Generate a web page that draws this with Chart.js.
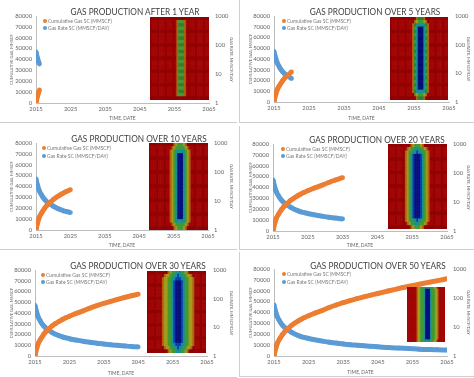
<!DOCTYPE html>
<html>
<head>
<meta charset="utf-8">
<title>Gas production</title>
<script src="https://cdn.jsdelivr.net/npm/chart.js@4/dist/chart.umd.min.js"></script>
<style>
	html, body { margin: 0; padding: 0; background: #fff; }
	#page { position: relative; width: 474px; height: 378px; overflow: hidden; filter: blur(0.55px); }
	.frame { position: absolute; box-sizing: border-box; border-bottom: 1px solid #cfcfcf; }
	.frame.side { border-left: 1px solid #cfcfcf; }
	.box { position: absolute; }
	.box canvas { display: block; }
	.title { position: absolute; transform: translate(-50%, -50%) scaleX(.88); white-space: nowrap; font: 9.4px Lato, sans-serif; color: #404040; }
	.legend { position: absolute; transform: translateY(-50%); white-space: nowrap; font: 5px Lato, sans-serif; color: #777; }
	.dot { position: absolute; width: 4px; height: 4px; border-radius: 50%; transform: translate(-50%, -50%); }
</style>
</head>
<body>
<div id="page"></div>
<script>

var years = [2015, 2015.1, 2015.25, 2015.5, 2015.75, 2016, 2016.5, 2017, 2017.5, 2018, 2018.8, 2019, 2020, 2021, 2022, 2023, 2024, 2025, 2027, 2029, 2031, 2033, 2035, 2037, 2039, 2041, 2043, 2045, 2048, 2051, 2054, 2057, 2060, 2062, 2065];
var cumulativeGas = [0, 1800, 4000, 7000, 9700, 12000, 15000, 17500, 20000, 22000, 24500, 25000, 28000, 30300, 32200, 34000, 35600, 37000, 39600, 42000, 44600, 46900, 49000, 50900, 52700, 54400, 56000, 57500, 59800, 62000, 64100, 66000, 67900, 69100, 71000];
var gasRate = [58, 50, 42, 33, 26, 22, 17, 13.5, 11.3, 9.8, 8.2, 8, 6.6, 5.7, 5.1, 4.6, 4.3, 4, 3.6, 3.25, 3, 2.8, 2.6, 2.45, 2.35, 2.25, 2.15, 2.08, 1.95, 1.87, 1.8, 1.72, 1.67, 1.64, 1.6];

var panelTitles = ["GAS PRODUCTION AFTER 1 YEAR", "GAS PRODUCTION OVER 5 YEARS", "GAS PRODUCTION OVER 10 YEARS", "GAS PRODUCTION OVER 20 YEARS", "GAS PRODUCTION OVER 30 YEARS", "GAS PRODUCTION OVER 50 YEARS"];
var panelLastYear = [2016, 2020, 2025, 2035, 2045, 2065];
var seriesNames = ["Cumulative Gas SC (MMSCF)", "Gas Rate SC (MMSCF/DAY)"];

// saturation field of each inset, one string per row, one letter per cell (r o y g t b n)
var heatRows1 = [
	"rrrrrrrrrrrrrrrrrrrrrrrrrrrrrrr"
].concat(Array(23).fill("rrrrrrrrrrrrrrogggorrrrrrrrrrrr"), [
	"rrrrrrrrrrrrrrrrrrrrrrrrrrrrrrr"
]);
var heatRows2 = [
	"rrrrrrrrrrrrrrogggorrrrrrrrrrrr",
	"rrrrrrrrrrrrroygggyorrrrrrrrrrr",
	"rrrrrrrrrrrrogtttttgorrrrrrrrrr"
].concat(Array(19).fill("rrrrrrrrrrrrogtnnntgorrrrrrrrrr"), [
	"rrrrrrrrrrrrogtttttgorrrrrrrrrr",
	"rrrrrrrrrrrrroygggyorrrrrrrrrrr",
	"rrrrrrrrrrrrrrogggorrrrrrrrrrrr"
]);
var heatRows3 = [
	"rrrrrrrrrrrrroygggyorrrrrrrrrrr",
	"rrrrrrrrrrrroygggggyorrrrrrrrrr",
	"rrrrrrrrrrroygtttttgyorrrrrrrrr"
].concat(Array(19).fill("rrrrrrrrrrroygtnnntgyorrrrrrrrr"), [
	"rrrrrrrrrrroygtttttgyorrrrrrrrr",
	"rrrrrrrrrrrroygggggyorrrrrrrrrr",
	"rrrrrrrrrrrrroygggyorrrrrrrrrrr"
]);
var heatRows4 = [
	"rrrrrrrrrrrroygggyorrrrrrrrrrrr",
	"rrrrrrrrrroyggtttggyorrrrrrrrrr",
	"rrrrrrrrroyggttbttggyorrrrrrrrr"
].concat(Array(19).fill("rrrrrrrrroygtbnnnbtgyorrrrrrrrr"), [
	"rrrrrrrrroyggttbttggyorrrrrrrrr",
	"rrrrrrrrrroyggtttggyorrrrrrrrrr",
	"rrrrrrrrrrrroygggyorrrrrrrrrrrr"
]);
var heatRows5 = [
	"rrrrrrrrrrroyggtttggyorrrrrrrrr",
	"rrrrrrrrroyyggttbttggyyorrrrrrr",
	"rrrrrrrroyyggttbbbttggyyorrrrrr"
].concat(Array(19).fill("rrrrrrrroyyggtbnnnbtggyyorrrrrr"), [
	"rrrrrrrroyyggttbbbttggyyorrrrrr",
	"rrrrrrrrroyyggttbttggyyorrrrrrr",
	"rrrrrrrrrrroyggtttggyorrrrrrrrr"
]);
var heatRows6 = [
	"rrrrrrrroyygggtttttgggyyorrrrrr"
].concat(Array(23).fill("rrrrrrrroyygggtnnnntgggyyorrrrr"), [
	"rrrrrrrroyygggtttttgggyyorrrrrr"
]);
var heatRows = [heatRows1, heatRows2, heatRows3, heatRows4, heatRows5, heatRows6];

var heatColors = { r: "#a20505", o: "#b0620f", y: "#a69a1c", g: "#3f9a36", t: "#1a8f92", b: "#0b3fae", n: "#08107e" };
var heatDark = { r: "#900101", g: "#307f2d", n: "#060c6e" };
var redTartan = [true, true, true, true, true, false];
var plumeBands = [true, true, false, false, false, false];

// layout in page pixels: canvas box, plot area, inset, title and legend anchors
var boxes = [[0, 0, 237, 123], [239, 0, 235, 123], [0, 126, 237, 124], [239, 126, 235, 124], [0, 252, 237, 126], [239, 252, 235, 125]];
var plots = [[36, 16, 209, 103], [274, 16, 449, 102], [36, 143, 208, 230], [273, 144, 447, 231], [35, 270, 207, 356], [274, 269, 447, 356]];
var insets = [[150, 17, 209, 100], [390, 17, 448, 100], [149, 143, 208, 230], [388, 144, 447, 229], [147, 271, 206, 353], [407, 287, 445, 342]];
var titleAt = [[135, 11], [375, 11], [139, 138], [377, 139], [138, 265], [378, 265]];
var legendAt = [[45, 21, 28], [284, 21, 28], [44, 148, 156], [283, 149, 156], [43, 275, 282], [284, 274, 282]];

var ORANGE = "#ed7d31";
var BLUE = "#5b9bd5";
var GREY = "#666";
var page = document.getElementById('page');

Chart.defaults.font.family = "Lato, sans-serif";
Chart.defaults.font.size = 5.8;
Chart.defaults.color = GREY;
Chart.defaults.animation = false;

function add_element(cls, left, top, text){
	var el = document.createElement('div');
	el.className = cls;
	el.style.left = left + 'px';
	el.style.top = top + 'px';
	if (text) { el.textContent = text; }
	page.appendChild(el);
	return el;
}

function add_canvas(box){
	var holder = add_element('box', box[0], box[1]);
	holder.style.width = box[2] + 'px';
	holder.style.height = box[3] + 'px';
	var canvas = document.createElement('canvas');
	canvas.width = box[2];
	canvas.height = box[3];
	holder.appendChild(canvas);
	return canvas;
}

function series_until(values, lastYear){
	var points = [];
	for (var i = 0; i < years.length; i++) {
		if (years[i] <= lastYear) { points.push({ x: years[i], y: values[i] }); }
	}
	return points;
}

function init_panel(n){
	var box = boxes[n], plot = plots[n];

	var frame = add_element(n % 2 ? 'frame side' : 'frame', box[0], box[1]);
	frame.style.width = box[2] + 'px';
	frame.style.height = box[3] + 'px';

	new Chart(add_canvas(box), {
		type: 'line',
		data: {
			datasets: [{
				label: seriesNames[0],
				data: series_until(cumulativeGas, panelLastYear[n]),
				yAxisID: 'y',
				borderColor: ORANGE,
				backgroundColor: ORANGE,
				borderWidth: 5,
				cubicInterpolationMode: 'monotone',
				pointRadius: 2.4,
				pointBorderWidth: 0
			}, {
				label: seriesNames[1],
				data: series_until(gasRate, panelLastYear[n]),
				yAxisID: 'y1',
				borderColor: BLUE,
				backgroundColor: BLUE,
				borderWidth: 5,
				cubicInterpolationMode: 'monotone',
				pointRadius: 2.4,
				pointBorderWidth: 0
			}]
		},
		options: {
			responsive: false,
			layout: { autoPadding: false, padding: { top: plot[1] - box[1] } },
			plugins: { legend: false, tooltip: false },
			scales: {
				x: {
					type: 'linear', min: 2015, max: 2065,
					grid: { display: false, drawTicks: false },
					border: { color: '#bdbdbd' },
					ticks: { stepSize: 10, padding: 3, maxRotation: 0, callback: function(v){ return String(v); } },
					title: { display: true, text: 'TIME, DATE', font: { size: 4.9 }, padding: { top: 0, bottom: 2 } },
					afterFit: function(scale){ scale.height = box[1] + box[3] - plot[3]; }
				},
				y: {
					position: 'left', min: 0, max: 80000,
					grid: { display: false, drawTicks: false },
					border: { color: '#bdbdbd' },
					ticks: { stepSize: 10000, padding: 4, callback: function(v){ return String(v); } },
					title: { display: true, text: 'CUMULATIVE GAS, MMSCF', font: { size: 4 }, padding: { top: 9, bottom: 0 } },
					afterFit: function(scale){ scale.width = plot[0] - box[0]; }
				},
				y1: {
					type: 'logarithmic', position: 'right', min: 1, max: 1000,
					grid: { display: false, drawTicks: false },
					border: { display: false },
					ticks: {
						padding: 6,
						callback: function(v){ return [1, 10, 100, 1000].indexOf(v) >= 0 ? String(v) : ''; }
					},
					title: { display: true, text: 'GAS RATE, MMSCF/DAY', font: { size: 4 }, padding: { top: 3, bottom: 0 } },
					afterFit: function(scale){ scale.width = box[0] + box[2] - plot[2]; }
				}
			}
		}
	});

	add_element('title', titleAt[n][0], titleAt[n][1], panelTitles[n]);

	var leg = legendAt[n];
	add_element('dot', leg[0], leg[1]).style.background = ORANGE;
	add_element('dot', leg[0], leg[2]).style.background = BLUE;
	add_element('legend', leg[0] + 3, leg[1], seriesNames[0]);
	add_element('legend', leg[0] + 3, leg[2], seriesNames[1]);

	init_inset(n);
}

function cell_color(letter, row, col, n){
	if (letter === 'r' && redTartan[n] && (row % 4 === 0 || col % 4 === 0)) { return heatDark.r; }
	if (letter !== 'r' && heatDark[letter] && plumeBands[n] && row % 2 === 0) { return heatDark[letter]; }
	return heatColors[letter];
}

function init_inset(n){
	var rows = heatRows[n];
	var rect = insets[n];
	var columns = rows[0].split('');
	var datasets = [];

	for (var r = rows.length - 1; r >= 0; r--) {
		var colors = [];
		for (var c = 0; c < columns.length; c++) {
			colors.push(cell_color(rows[r].charAt(c), r, c, n));
		}
		datasets.push({
			data: columns.map(function(){ return 1; }),
			backgroundColor: colors,
			barPercentage: 1,
			categoryPercentage: 1
		});
	}

	new Chart(add_canvas([rect[0], rect[1], rect[2] - rect[0], rect[3] - rect[1]]), {
		type: 'bar',
		data: { labels: columns.map(function(v, i){ return i; }), datasets: datasets },
		options: {
			responsive: false,
			layout: { autoPadding: false },
			plugins: { legend: false, tooltip: false },
			scales: {
				x: { display: false, stacked: true },
				y: { display: false, stacked: true, min: 0, max: rows.length }
			}
		}
	});
}

for (var p = 0; p < panelTitles.length; p++) {
	init_panel(p);
}

</script>
</body>
</html>
